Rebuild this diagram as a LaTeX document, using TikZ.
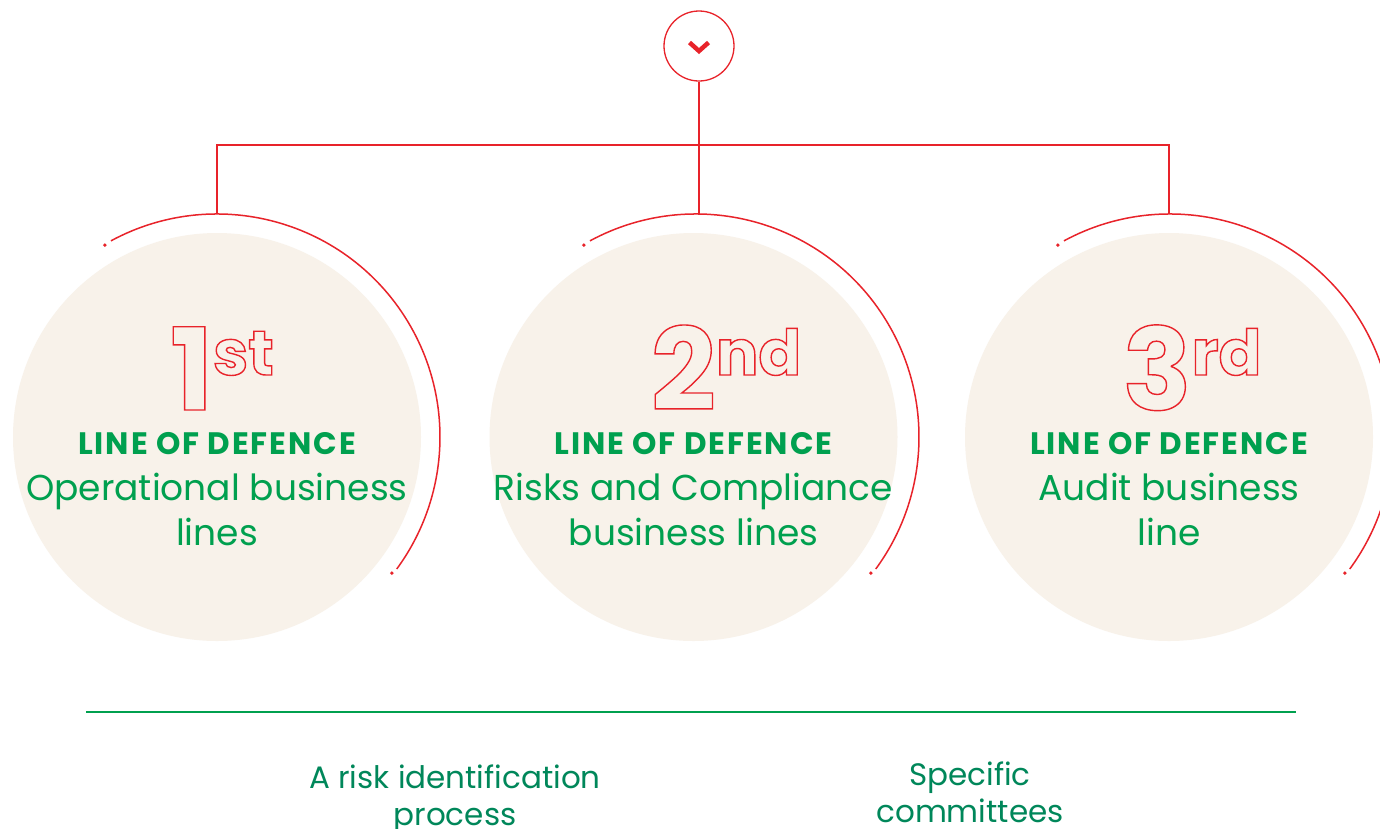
\documentclass[tikz,border=0pt]{standalone}
\usepackage{fontspec}
\setmainfont{Poppins}
\definecolor{rd}{HTML}{E8232A}
\definecolor{gr}{HTML}{00A04F}
\definecolor{grd}{HTML}{00875A}
\definecolor{beige}{HTML}{F8F2EA}
\newcommand\outl[1]{\special{pdf:code q 1 Tr 1.4 w}#1\special{pdf:code Q}}
\tikzset{
  disc/.style={circle, fill=beige, minimum size=408pt, inner sep=0pt},
  redline/.style={draw=rd, line width=1.3pt},
  arcline/.style={draw=rd, line width=1.5pt},
  dotst/.style={fill=rd},
  numtxt/.style={text=rd, inner sep=0pt, anchor=base, text depth=0pt, font=\fontsize{114}{114}\selectfont\bfseries},
  lod/.style={text=gr, inner sep=0pt, anchor=base, font=\fontsize{31}{31}\selectfont\bfseries\addfontfeatures{LetterSpace=6}},
  body/.style={text=gr, inner sep=0pt, anchor=base, align=center, font=\fontsize{36}{45}\selectfont},
  bottom/.style={text=grd, inner sep=0pt, anchor=base, align=center, font=\fontsize{31}{37}\selectfont},
}
\newcommand\sups[1]{\raisebox{35pt}{\fontsize{63}{63}\selectfont\outl{#1}}}
\begin{document}
\begin{tikzpicture}[x=1pt,y=-1pt]
\useasboundingbox (0,0) rectangle (1380,828);
\clip (0,0) rectangle (1380,828);
\fill[white] (0,0) rectangle (1380,828);
% top button
\node[circle, draw=rd, line width=1.3pt, minimum size=70pt, inner sep=0pt] (top) at (699,46) {};
\draw[rd, line width=4.5pt, miter limit=10] (689.5,42.5) -- (699,51) -- (708.5,42.5);
% discs
\node[disc] (c1) at (217,437) {};
\node[disc] (c2) at (693.5,437) {};
\node[disc] (c3) at (1169,437) {};
% arc tops
\coordinate (a1) at (217,214);
\coordinate (a2) at (699,214);
\coordinate (a3) at (1169,214);
\coordinate (h) at (699,145);
\draw[redline] (a1) |- (h) -| (a3);
\draw[redline] (top) -- (a2);
% arcs
\foreach \cx/\nm in {217/1,696/2,1170/3}{
  \draw[arcline] (\cx,437) ++(-118.4:223) arc[start angle=-118.4, end angle=36.3, radius=223];
  \fill[dotst] (\cx,437) ++(-120.3:222.3) circle (1.9);
  \fill[dotst] (\cx,437) ++(37.9:221.6) circle (1.9);
}
% numbers
\node[numtxt] (n1) at (222,410) {\outl{1}\sups{st}};
\node[numtxt] (n2) at (726,410) {\outl{2}\sups{nd}};
\node[numtxt] (n3) at (1192,410) {\outl{3}\sups{rd}};
% labels
\node[lod] (l1) at (217,454) {LINE OF DEFENCE};
\node[lod] (l2) at (693.5,454) {LINE OF DEFENCE};
\node[lod] (l3) at (1169,454) {LINE OF DEFENCE};
\node[body] (b1) at (217,545) {Operational business\\lines};
\node[body] (b2) at (693.5,545) {Risks and Compliance\\business lines};
\node[body] (b3) at (1169,545) {Audit business\\line};
% bottom
\coordinate (gl) at (86,712);
\coordinate (gr) at (1296,712);
\draw[gr, line width=1.3pt] (gl) -- (gr);
\node[bottom] (t1) at (455,825) {A risk identification\\process};
\node[bottom] (t2) at (970,822) {Specific\\committees};
\end{tikzpicture}
\end{document}
